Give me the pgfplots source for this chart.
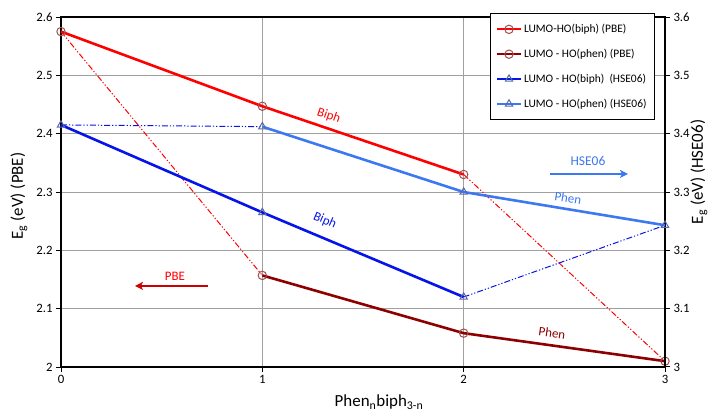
\documentclass[border=0pt]{standalone}
\usepackage{fontspec}
\setmainfont{Carlito}
\usepackage{pgfplots}
\pgfplotsset{compat=1.18}
\usetikzlibrary{arrows.meta}
\definecolor{cRed}{HTML}{FF0000}
\definecolor{cDark}{HTML}{8E0000}
\definecolor{cBlue}{HTML}{0514E8}
\definecolor{cLight}{HTML}{3C78F2}
\definecolor{mkRed}{HTML}{A05050}
\definecolor{mkBlue}{HTML}{5A6AA8}
\definecolor{gridc}{HTML}{A0A0A0}
\pgfplotsset{
  common/.style={
    at={(0,0)}, anchor=south west, scale only axis, width=604bp, height=350bp,
    xmin=0, xmax=3, clip=false,
    axis line style={black, line width=1.2bp},
    tick style={black, line width=1bp}, tick align=outside, major tick length=5bp,
    ticklabel style={font=\fontsize{12.8}{14}\selectfont},
    /pgf/number format/assume math mode=true,
  },
  solidline/.style={line width=2.6bp, mark size=4.2bp},
  dd/.style={line width=1bp, dash pattern=on 6bp off 2bp on 1.2bp off 2bp on 1.2bp off 2bp},
}
\begin{document}
\begin{tikzpicture}
\begin{axis}[common,
  ymin=2, ymax=2.6,
  xtick={0,1,2,3}, xtick pos=bottom,
  ytick={2,2.1,2.2,2.3,2.4,2.5,2.6}, yticklabels={2,2.1,2.2,2.3,2.4,2.5,2.6}, ytick pos=left,
  xmajorgrids, ymajorgrids, major grid style={gridc, line width=1bp},
]
\addplot[cRed, dd, forget plot] coordinates {(0,2.575) (1,2.157)};
\addplot[cRed, dd, forget plot] coordinates {(2,2.330) (3,2.010)};
\addplot[cRed, solidline, mark=o, mark options={draw=mkRed, line width=1bp}] coordinates {(0,2.575) (1,2.447) (2,2.330)};
\addplot[cDark, solidline, mark=o, mark options={draw=mkRed, line width=1bp}] coordinates {(1,2.157) (2,2.058) (3,2.010)};
\node[cRed, rotate=-19, font=\fontsize{13}{15}\selectfont] at (axis cs:1.33,2.431) {Biph};
\node[cBlue, rotate=-23, font=\fontsize{13}{15}\selectfont] at (axis cs:1.311,2.251) {Biph};
\node[cLight, rotate=-9, font=\fontsize{13}{15}\selectfont] at (axis cs:2.518,2.289) {Phen};
\node[cDark, rotate=-8, font=\fontsize{13}{15}\selectfont] at (axis cs:2.439,2.058) {Phen};
\node[cRed, font=\fontsize{13}{15}\selectfont] at (axis cs:0.566,2.156) {PBE};
\draw[red!80!black, line width=1.8bp, -{Stealth[length=8bp,width=8bp,inset=2bp]}] (axis cs:0.730,2.139) -- (axis cs:0.3675,2.139);
\node[cLight, font=\fontsize{13.5}{15}\selectfont] at (axis cs:2.6175,2.353) {HSE06};
\draw[cLight, line width=1.8bp, -{Stealth[length=8bp,width=8bp,inset=2bp]}] (axis cs:2.4288,2.331) -- (axis cs:2.8162,2.331);
\end{axis}
\begin{axis}[common,
  ymin=3, ymax=3.6, axis y line*=right, axis x line=none,
  ytick={3,3.1,3.2,3.3,3.4,3.5,3.6}, yticklabels={3,3.1,3.2,3.3,3.4,3.5,3.6},
  legend style={at={(rel axis cs:0.9834,1.0114)}, anchor=north east, draw=black, line width=0.8bp,
    fill=white, font=\fontsize{11.5}{13}\selectfont, row sep=11bp, inner xsep=6bp, inner ysep=9bp,
    cells={anchor=west}},
  legend image code/.code={\draw[mark repeat=2,mark phase=2,line width=2bp] plot coordinates {(0bp,0bp) (12bp,0bp) (24bp,0bp)};},
]
\addlegendimage{cRed, solidline, mark=o, mark options={draw=mkRed, line width=1bp}}
\addlegendentry{LUMO-HO(biph) (PBE)}
\addlegendimage{cDark, solidline, mark=o, mark options={draw=mkRed, line width=1bp}}
\addlegendentry{LUMO - HO(phen) (PBE)}
\addplot[cBlue, dd, forget plot] coordinates {(0,3.415) (1,3.412)};
\addplot[cBlue, dd, forget plot] coordinates {(2,3.120) (3,3.243)};
\addplot[cBlue, solidline, mark=triangle, mark options={draw=mkBlue, line width=1bp}] coordinates {(0,3.415) (1,3.265) (2,3.120)};
\addlegendentry{LUMO - HO(biph)\ \ (HSE06)}
\addplot[cLight, solidline, mark=triangle, mark options={draw=mkBlue, line width=1bp}] coordinates {(1,3.412) (2,3.300) (3,3.243)};
\addlegendentry{LUMO - HO(phen) (HSE06)}
\end{axis}
\node[font=\fontsize{17}{19}\selectfont] at (318bp,-35bp) {Phen\textsubscript{n}biph\textsubscript{3-n}};
\node[rotate=90, font=\fontsize{17}{19}\selectfont] at (-42bp,171bp) {E\textsubscript{g} (eV) (PBE)};
\node[rotate=90, font=\fontsize{17}{19}\selectfont] at (638bp,195bp) {E\textsubscript{g} (eV) (HSE06)};
\pgfresetboundingbox
\path[use as bounding box] (-61bp,-44bp) rectangle (654bp,367bp);
\end{tikzpicture}
\end{document}
